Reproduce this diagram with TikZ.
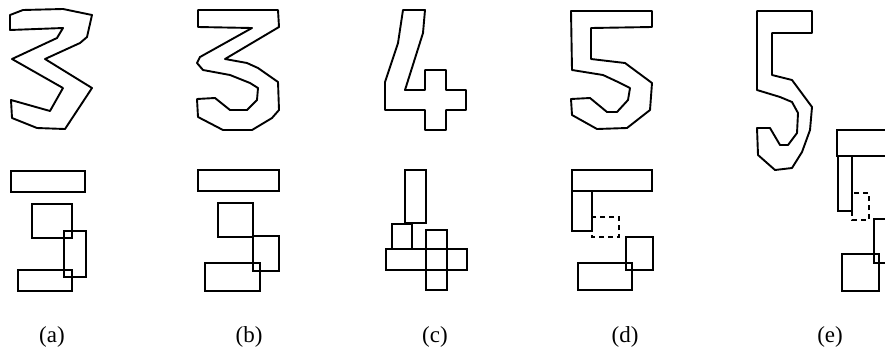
\documentclass[tikz,border=0pt]{standalone}
\usepackage{fontspec}
\setmainfont{Liberation Serif}
\begin{document}
\begin{tikzpicture}[x=1pt,y=-1pt,
  outl/.style={draw=black,line width=1.9pt,line join=round},
  blk/.style={draw=black,line width=2pt},
  dsh/.style={draw=black,line width=2pt,dash pattern=on 5pt off 4pt},
  lbl/.style={font=\fontsize{23}{25}\selectfont,inner sep=0pt}]
\useasboundingbox (0,0) rectangle (885,357);
\begin{scope}
\clip (0,0) rectangle (885,357);
% (a) digit 3
\draw[outl] (10,15) -- (23,10) -- (63,9) -- (92,15) -- (87,37) -- (80,43) -- (45,59) -- (92,88) -- (65,129) -- (37,128) -- (12,118) -- (11,100) -- (50,111) -- (63,88) -- (12,59) -- (57,38) -- (63,28) -- (10,30) -- cycle;
% (b) digit 3
\draw[outl] (198,10) -- (278,10) -- (279,27) -- (225,59) -- (247,63) -- (258,68) -- (278,82) -- (279,110) -- (272,118) -- (252,130) -- (223,130) -- (198,117) -- (197,99) -- (215,98) -- (230,110) -- (247,110) -- (257,100) -- (258,88) -- (250,83) -- (230,75) -- (203,70) -- (197,63) -- (200,57) -- (252,28) -- (198,27) -- cycle;
% (c) digit 4
\draw[outl] (403,10) -- (425,10) -- (423,33) -- (405,90) -- (425,90) -- (425,70) -- (446,70) -- (446,90) -- (466,90) -- (466,110) -- (446,110) -- (446,130) -- (425,130) -- (425,110) -- (385,110) -- (385,82) -- (398,43) -- cycle;
% (d) digit 5
\draw[outl] (571,11) -- (652,11) -- (652,27) -- (591,28) -- (591,59) -- (625,63) -- (652,83) -- (650,110) -- (627,128) -- (597,129) -- (572,115) -- (571,99) -- (590,98) -- (607,112) -- (617,112) -- (628,100) -- (630,88) -- (618,82) -- (603,75) -- (572,70) -- cycle;
% (e) digit 5
\draw[outl] (757,11) -- (812,11) -- (812,33) -- (772,33) -- (772,75) -- (792,80) -- (812,107) -- (810,130) -- (802,152) -- (792,168) -- (775,170) -- (758,155) -- (757,128) -- (770,128) -- (780,145) -- (788,145) -- (797,133) -- (798,113) -- (792,102) -- (780,97) -- (757,90) -- cycle;
% (a) rectangles
\draw[blk] (11,171) rectangle (85,192);
\draw[blk] (32,204) rectangle (72,238);
\draw[blk] (64,231) rectangle (86,277);
\draw[blk] (18,270) rectangle (72,291);
% (b) rectangles
\draw[blk] (198,170) rectangle (279,191);
\draw[blk] (218,203) rectangle (253,237);
\draw[blk] (253,236) rectangle (279,271);
\draw[blk] (205,263) rectangle (260,291);
% (c) rectangles
\draw[blk] (405,170) rectangle (426,223);
\draw[blk] (392,224) rectangle (412,249);
\draw[blk] (386,249) rectangle (467,270);
\draw[blk] (426,230) rectangle (447,290);
% (d) rectangles
\draw[blk] (572,170) rectangle (652,191);
\draw[blk] (572,191) rectangle (592,231);
\draw[dsh] (592,217) rectangle (619,237);
\draw[blk] (626,237) rectangle (653,270);
\draw[blk] (578,263) rectangle (632,290);
% (e) rectangles
\draw[blk] (837,130) rectangle (900,156);
\draw[blk] (838,156) rectangle (852,211);
\draw[dsh] (852,193) rectangle (869,220);
\draw[blk] (874,219) rectangle (900,263);
\draw[blk] (842,254) rectangle (879,291);
\end{scope}
% labels
\node[lbl] (la) at (52,337) {(a)};
\node[lbl] (lb) at (249,337) {(b)};
\node[lbl] (lc) at (435,337) {(c)};
\node[lbl] (ld) at (625,337) {(d)};
\node[lbl] (le) at (830,337) {(e)};
\end{tikzpicture}
\end{document}
